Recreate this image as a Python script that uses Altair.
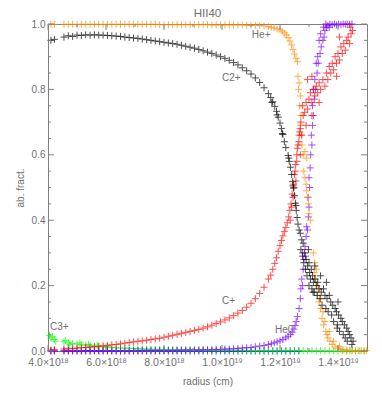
import altair as alt
import pandas as pd

# ---------------- data (radius in units of 1e18 cm) ----------------
r_in = [4.10, 4.22, 4.55, 4.70, 4.85, 5.00, 5.15, 5.30, 5.45, 5.60,
        5.75, 5.90, 6.05, 6.20, 6.35, 6.50, 6.65, 6.80, 6.95, 7.10,
        7.25, 7.40, 7.55, 7.70, 7.85, 8.00, 8.15, 8.30, 8.45, 8.60,
        8.75, 8.90, 9.05, 9.20, 9.35, 9.50, 9.65, 9.80, 9.95, 10.10,
        10.25, 10.40, 10.55, 10.70, 10.85, 11.00, 11.15, 11.30, 11.45, 11.60]

c2_in = [.950, .953, .960, .964, .962, .966, .965, .967, .966, .967,
         .966, .966, .965, .964, .963, .962, .960, .959, .957, .956,
         .954, .952, .950, .948, .946, .944, .942, .940, .938, .935,
         .932, .929, .926, .922, .918, .914, .910, .905, .900, .895,
         .889, .882, .875, .866, .857, .847, .835, .821, .805, .787]

c1_in = [.003, .004, .006, .007, .008, .009, .010, .011, .012, .013,
         .014, .016, .017, .019, .020, .022, .024, .026, .028, .030,
         .031, .033, .035, .037, .039, .042, .045, .048, .051, .054,
         .057, .060, .063, .066, .070, .074, .079, .084, .089, .095,
         .101, .108, .116, .124, .134, .146, .160, .176, .195, .220]

he0_in = [.001, .001, .001, .001, .001, .001, .001, .001, .001, .001,
          .001, .001, .001, .001, .001, .001, .001, .001, .001, .001,
          .002, .002, .002, .002, .002, .002, .002, .002, .002, .003,
          .003, .003, .003, .003, .004, .004, .004, .005, .005, .006,
          .006, .007, .008, .009, .010, .011, .013, .015, .017, .020]

he1_in = [.999, .999, .999, .999, .999, .999, .999, .999, .999, .999,
          .999, .999, .999, .999, .999, .999, .999, .999, .999, .999,
          .999, .999, .999, .999, .998, .998, .998, .998, .998, .998,
          .998, .998, .998, .998, .998, .998, .997, .997, .997, .997,
          .997, .997, .997, .997, .996, .996, .996, .995, .994, .992]

c3_in = [.040, .035, .028, .025, .023, .021, .019, .018, .016, .015,
         .014, .013, .012, .011, .010, .009, .009, .008, .007, .007,
         .006, .006, .005, .005, .005, .004, .004, .004, .004, .003,
         .003, .003, .003, .003, .003, .002, .002, .002, .002, .002,
         .002, .002, .002, .002, .002, .001, .001, .001, .001, .001]

c0_in = [.000, .000, .000, .000, .000, .000, .000, .000, .000, .000,
         .000, .000, .000, .000, .000, .000, .000, .000, .000, .000,
         .000, .000, .000, .000, .000, .000, .000, .000, .000, .000,
         .000, .000, .000, .000, .000, .000, .000, .000, .000, .000,
         .000, .000, .000, .000, .000, .000, .000, .000, .000, .000]

c0_out_r = [11.75, 11.90, 12.05, 12.20, 12.35, 12.50, 12.65]
c0_out_y = [.000, .000, .000, .000, .000, .000, .000]

c3_extra_r = [4.05, 4.15, 4.25, 4.60, 4.75, 5.10, 5.40, 5.70, 6.00]
c3_extra_y = [.048, .045, .030, .032, .020, .025, .020, .018, .014]

c3_out_r = [11.75, 11.90, 12.05, 12.20, 12.35, 12.50, 12.65, 12.80, 12.95, 13.10, 13.25,
            13.40, 13.55, 13.70, 13.85, 14.00, 14.15, 14.30, 14.45, 14.60, 14.75, 14.90]
c3_out_y = [.001, .001, .001, .001, .001, .001, .001, .001, .001, .001, .001,
            .001, .001, .001, .000, .000, .000, .000, .000, .000, .000, .000]

c2_out_r = [11.68, 11.72, 11.75, 11.82, 11.88, 11.90, 11.94, 12.00, 12.05, 12.08, 12.10, 12.15,
            12.20, 12.28, 12.30, 12.32, 12.36, 12.40, 12.44, 12.45, 12.47, 12.50, 12.53, 12.55,
            12.56, 12.59, 12.62, 12.66,
            12.70, 12.75, 12.72, 12.80, 12.78, 12.85, 12.82, 12.90, 12.88, 12.95, 13.00, 12.93,
            13.02, 13.08, 13.05, 13.12, 13.00, 13.15, 13.20, 13.10, 13.25, 13.30, 13.18, 13.35,
            13.28, 13.42, 13.50, 13.38, 13.55, 13.45, 13.62, 13.70, 13.58, 13.75, 13.66, 13.82,
            13.90, 13.78, 13.95, 13.85, 14.02, 14.10, 13.98, 14.15, 14.05, 14.22, 14.30, 14.18,
            14.35, 14.25, 14.40, 14.45, 14.32, 14.48, 14.52, 13.60, 13.20, 12.98, 14.00, 13.40,
            13.14, 13.97]
c2_out_y = [.775, .760, .762, .748, .733, .722, .715, .697, .680, .665, .662, .640,
            .622, .598, .590, .580, .562, .540, .518, .505, .498, .475, .452, .445,
            .430, .408, .388, .370,
            .36, .34, .31, .33, .29, .30, .27, .28, .25, .26, .27, .23,
            .24, .25, .22, .23, .20, .21, .22, .19, .20, .21, .18, .19,
            .17, .18, .19, .16, .17, .14, .16, .17, .13, .15, .12, .14,
            .13, .11, .12, .09, .11, .10, .08, .09, .06, .08, .07, .05,
            .06, .04, .05, .04, .03, .02, .03, .21, .26, .31, .15, .23,
            .18, .07]

c1_out_r = [11.68, 11.75, 11.82, 11.88, 11.94, 12.00, 12.05, 12.10, 12.15, 12.20, 12.25, 12.30,
            12.34, 12.38, 12.42, 12.46, 12.50, 12.54, 12.58, 12.62, 12.66, 12.70,
            12.35, 12.40, 12.45, 12.48, 12.52, 12.55, 12.58, 12.60, 12.65, 12.68, 12.72, 12.75,
            12.80, 12.78, 12.85, 12.90, 12.95, 13.00, 13.05, 13.10, 13.15, 13.20, 13.25, 13.30,
            13.35, 13.40, 13.48, 13.55, 13.60, 13.65, 13.70, 13.75, 13.80, 13.85, 13.90, 13.95,
            14.00, 14.05, 14.10, 14.15, 14.20, 14.25, 14.30, 14.35, 14.40, 14.45, 14.50, 14.42,
            12.90, 13.10, 12.70, 13.35, 13.95, 14.05, 12.95, 13.10]
c1_out_y = [.232, .250, .268, .285, .305, .322, .338, .352, .365, .378, .392, .410,
            .43, .45, .48, .51, .54, .57, .60, .63, .66, .68,
            .40, .44, .47, .50, .55, .52, .58, .62, .64, .67, .70, .66,
            .72, .75, .73, .76, .74, .77, .79, .76, .80, .78, .81, .79,
            .82, .80, .83, .81, .85, .83, .87, .85, .88, .86, .90, .88,
            .91, .89, .93, .91, .94, .92, .95, .96, .94, .97, .98, .99,
            .69, .72, .60, .76, .84, .96, .83, .84]

he0_out_r = [11.70, 11.80, 11.90, 12.00, 12.10, 12.20, 12.28, 12.36, 12.42, 12.48, 12.52, 12.56, 12.60,
             12.66, 12.70, 12.72, 12.75, 12.78, 12.80, 12.82, 12.78, 12.86, 12.88, 12.90, 12.92,
             12.95, 12.98, 13.00, 12.97, 13.02, 13.00, 13.04, 13.06, 13.10, 13.08, 13.12, 13.15,
             13.12, 13.18, 13.22, 13.20, 13.28, 13.32, 13.30, 13.38, 13.42, 13.48, 13.52, 13.55,
             13.60, 13.65, 13.72, 13.80, 13.88, 13.95, 14.02, 14.10, 14.18, 14.25, 14.32, 14.40,
             14.48, 13.50, 13.40, 13.58, 13.25, 13.15, 13.35, 13.70]
he0_out_y = [.022, .025, .028, .031, .035, .040, .045, .051, .058, .067, .078, .090, .105,
             .13, .16, .19, .22, .20, .25, .28, .30, .32, .29, .35, .38,
             .37, .41, .44, .47, .50, .53, .56, .60, .63, .66, .69, .72,
             .75, .77, .80, .83, .85, .88, .90, .91, .93, .95, .96, .98,
             .99, .995, 1.0, .998, 1.0, .997, 1.0, .998, 1.0, .999, 1.0, .999,
             1.0, .99, .97, 1.0, .88, .80, .95, .99]

he1_out_r = [11.70, 11.80, 11.90, 12.00, 12.08, 12.15, 12.22, 12.28, 12.34, 12.40, 12.45, 12.50,
             12.55, 12.60,
             12.62, 12.66, 12.64, 12.70, 12.68, 12.72, 12.70, 12.74, 12.76, 12.80, 12.86, 12.92,
             12.82, 12.86, 12.90, 12.92, 12.95, 12.98, 13.00, 13.05, 13.15, 13.20, 13.18, 13.22,
             13.28, 13.30, 13.35, 13.40, 13.45, 13.50, 13.58, 13.65, 13.72, 13.25, 13.32, 13.40,
             13.48, 13.55, 13.62, 13.80, 13.90, 14.00, 14.10, 14.20, 14.30, 14.40, 14.50, 14.60,
             14.70, 14.80, 14.90, 14.98, 13.85, 13.70, 14.05]
he1_out_y = [.990, .988, .985, .982, .978, .973, .966, .958, .948, .936, .922, .908,
             .895, .885,
             .84, .82, .80, .78, .75, .72, .69, .66, .63, .60, .61, .59,
             .55, .53, .51, .49, .47, .45, .42, .40, .30, .27, .24, .22,
             .20, .17, .15, .13, .10, .08, .06, .04, .03, .25, .19, .16,
             .12, .09, .05, .02, .012, .008, .005, .004, .003, .002, .002, .001,
             .001, .001, .001, .001, .03, .06, .015]

# species labels drawn on the chart
label_text = ["He+", "C2+", "C+", "He0", "C3+"]
label_r = [11.03, 10.00, 10.00, 11.83, 4.07]
label_y = [0.966, 0.835, 0.152, 0.064, 0.073]

chart_title = "HII40"

species = ["C0", "C3+", "He0", "He+", "C+", "C2+"]
colors = ["#0000ff", "#00ff00", "#7f00ff", "#ff8c00", "#ff0000", "#000000"]

# axis tick values
x_major = [4, 6, 8, 10, 12, 14]
x_major_lab = ["4.0×10¹⁸", "6.0×10¹⁸", "8.0×10¹⁸", "1.0×10¹⁹", "1.2×10¹⁹", "1.4×10¹⁹"]
x_minor = [5, 7, 9, 11, 13]
y_major = [0.0, 0.2, 0.4, 0.6, 0.8, 1.0]
y_minor = [0.05, 0.1, 0.15, 0.25, 0.3, 0.35, 0.45, 0.5, 0.55, 0.65, 0.7, 0.75, 0.85, 0.9, 0.95]

# ---------------- build table ----------------
rows = []
def add(name, rs, ys):
    for a, b in zip(rs, ys):
        rows.append({"r": a, "f": b, "sp": name})

add("C0", r_in, c0_in)
add("C0", c0_out_r, c0_out_y)
add("C3+", r_in, c3_in)
add("C3+", c3_extra_r, c3_extra_y)
add("C3+", c3_out_r, c3_out_y)
add("He0", r_in, he0_in)
add("He0", he0_out_r, he0_out_y)
add("He+", r_in, he1_in)
add("He+", he1_out_r, he1_out_y)
add("C+", r_in, c1_in)
add("C+", c1_out_r, c1_out_y)
add("C2+", r_in, c2_in)
add("C2+", c2_out_r, c2_out_y)
df = pd.DataFrame(rows)
df["o"] = range(len(df))

W, H = 319, 327
GRAY = "#808080"
TXT = "#707070"
FONT = "Liberation Sans"

xs = alt.Scale(domain=[4, 15], nice=False, zero=False)
ys = alt.Scale(domain=[0, 1], nice=False, zero=False)

lab_expr = " : ".join(
    f"datum.value == {v} ? '{t}'" for v, t in zip(x_major, x_major_lab)
) + " : ''"

ax_x = alt.Axis(values=x_major, labelExpr=lab_expr, title="radius (cm)", ticks=False,
                domain=False, grid=False, labelFlush=False, labelOverlap=False,
                labelPadding=6, titlePadding=9, labelFontSize=10.5, titleFontSize=10,
                labelColor=TXT, titleColor=TXT, labelFont=FONT, titleFont=FONT,
                titleFontWeight="normal")
ax_y = alt.Axis(values=y_major, format=".1f", title="ab. fract.", ticks=False,
                domain=False, grid=False, labelFlush=False, labelPadding=3,
                titlePadding=6, labelFontSize=10, titleFontSize=10,
                labelColor=TXT, titleColor=TXT, labelFont=FONT, titleFont=FONT,
                titleFontWeight="normal")

points = alt.Chart(df).mark_point(
    shape="M-1,0L1,0M0,-1L0,1", filled=False, strokeWidth=1, size=49, opacity=0.7
).encode(
    x=alt.X("r:Q", scale=xs, axis=ax_x),
    y=alt.Y("f:Q", scale=ys, axis=ax_y),
    color=alt.Color("sp:N", scale=alt.Scale(domain=species, range=colors), legend=None),
    order=alt.Order("o:Q"),
)

labels = alt.Chart(pd.DataFrame({"t": label_text, "r": label_r, "f": label_y})).mark_text(
    align="left", baseline="middle", color=TXT, fontSize=10, font=FONT
).encode(x=alt.X("r:Q", scale=xs, axis=ax_x), y=alt.Y("f:Q", scale=ys, axis=ax_y), text="t:N")

title_mark = alt.Chart(pd.DataFrame({"t": [chart_title]})).mark_text(
    align="center", baseline="middle", color=TXT, fontSize=11.5, font=FONT
).encode(x=alt.value(W / 2), y=alt.value(-10), text="t:N")

def xticks(vals, ln):
    d = pd.DataFrame({"v": vals})
    bot = alt.Chart(d).mark_rule(color=GRAY, strokeWidth=1).encode(
        x=alt.X("v:Q", scale=xs, axis=ax_x), y=alt.value(H), y2=alt.value(H - ln))
    top = alt.Chart(d).mark_rule(color=GRAY, strokeWidth=1).encode(
        x=alt.X("v:Q", scale=xs, axis=ax_x), y=alt.value(0), y2=alt.value(ln))
    return [bot, top]

def yticks(vals, ln):
    d = pd.DataFrame({"w": vals})
    left = alt.Chart(d).mark_rule(color=GRAY, strokeWidth=1).encode(
        y=alt.Y("w:Q", scale=ys, axis=ax_y), x=alt.value(0), x2=alt.value(ln))
    right = alt.Chart(d).mark_rule(color=GRAY, strokeWidth=1).encode(
        y=alt.Y("w:Q", scale=ys, axis=ax_y), x=alt.value(W), x2=alt.value(W - ln))
    return [left, right]

tick_layers = xticks(x_major, 6) + xticks(x_minor, 3) + yticks(y_major, 6) + yticks(y_minor, 3)

chart = alt.layer(points, labels, title_mark, *tick_layers).properties(
    width=W, height=H,
    autosize="none",
    padding={"left": 40, "top": 16, "right": 7, "bottom": 37},
).configure_view(stroke=GRAY, strokeWidth=1)

chart.save("out.html", embed_options={"renderer": "svg", "actions": False})
